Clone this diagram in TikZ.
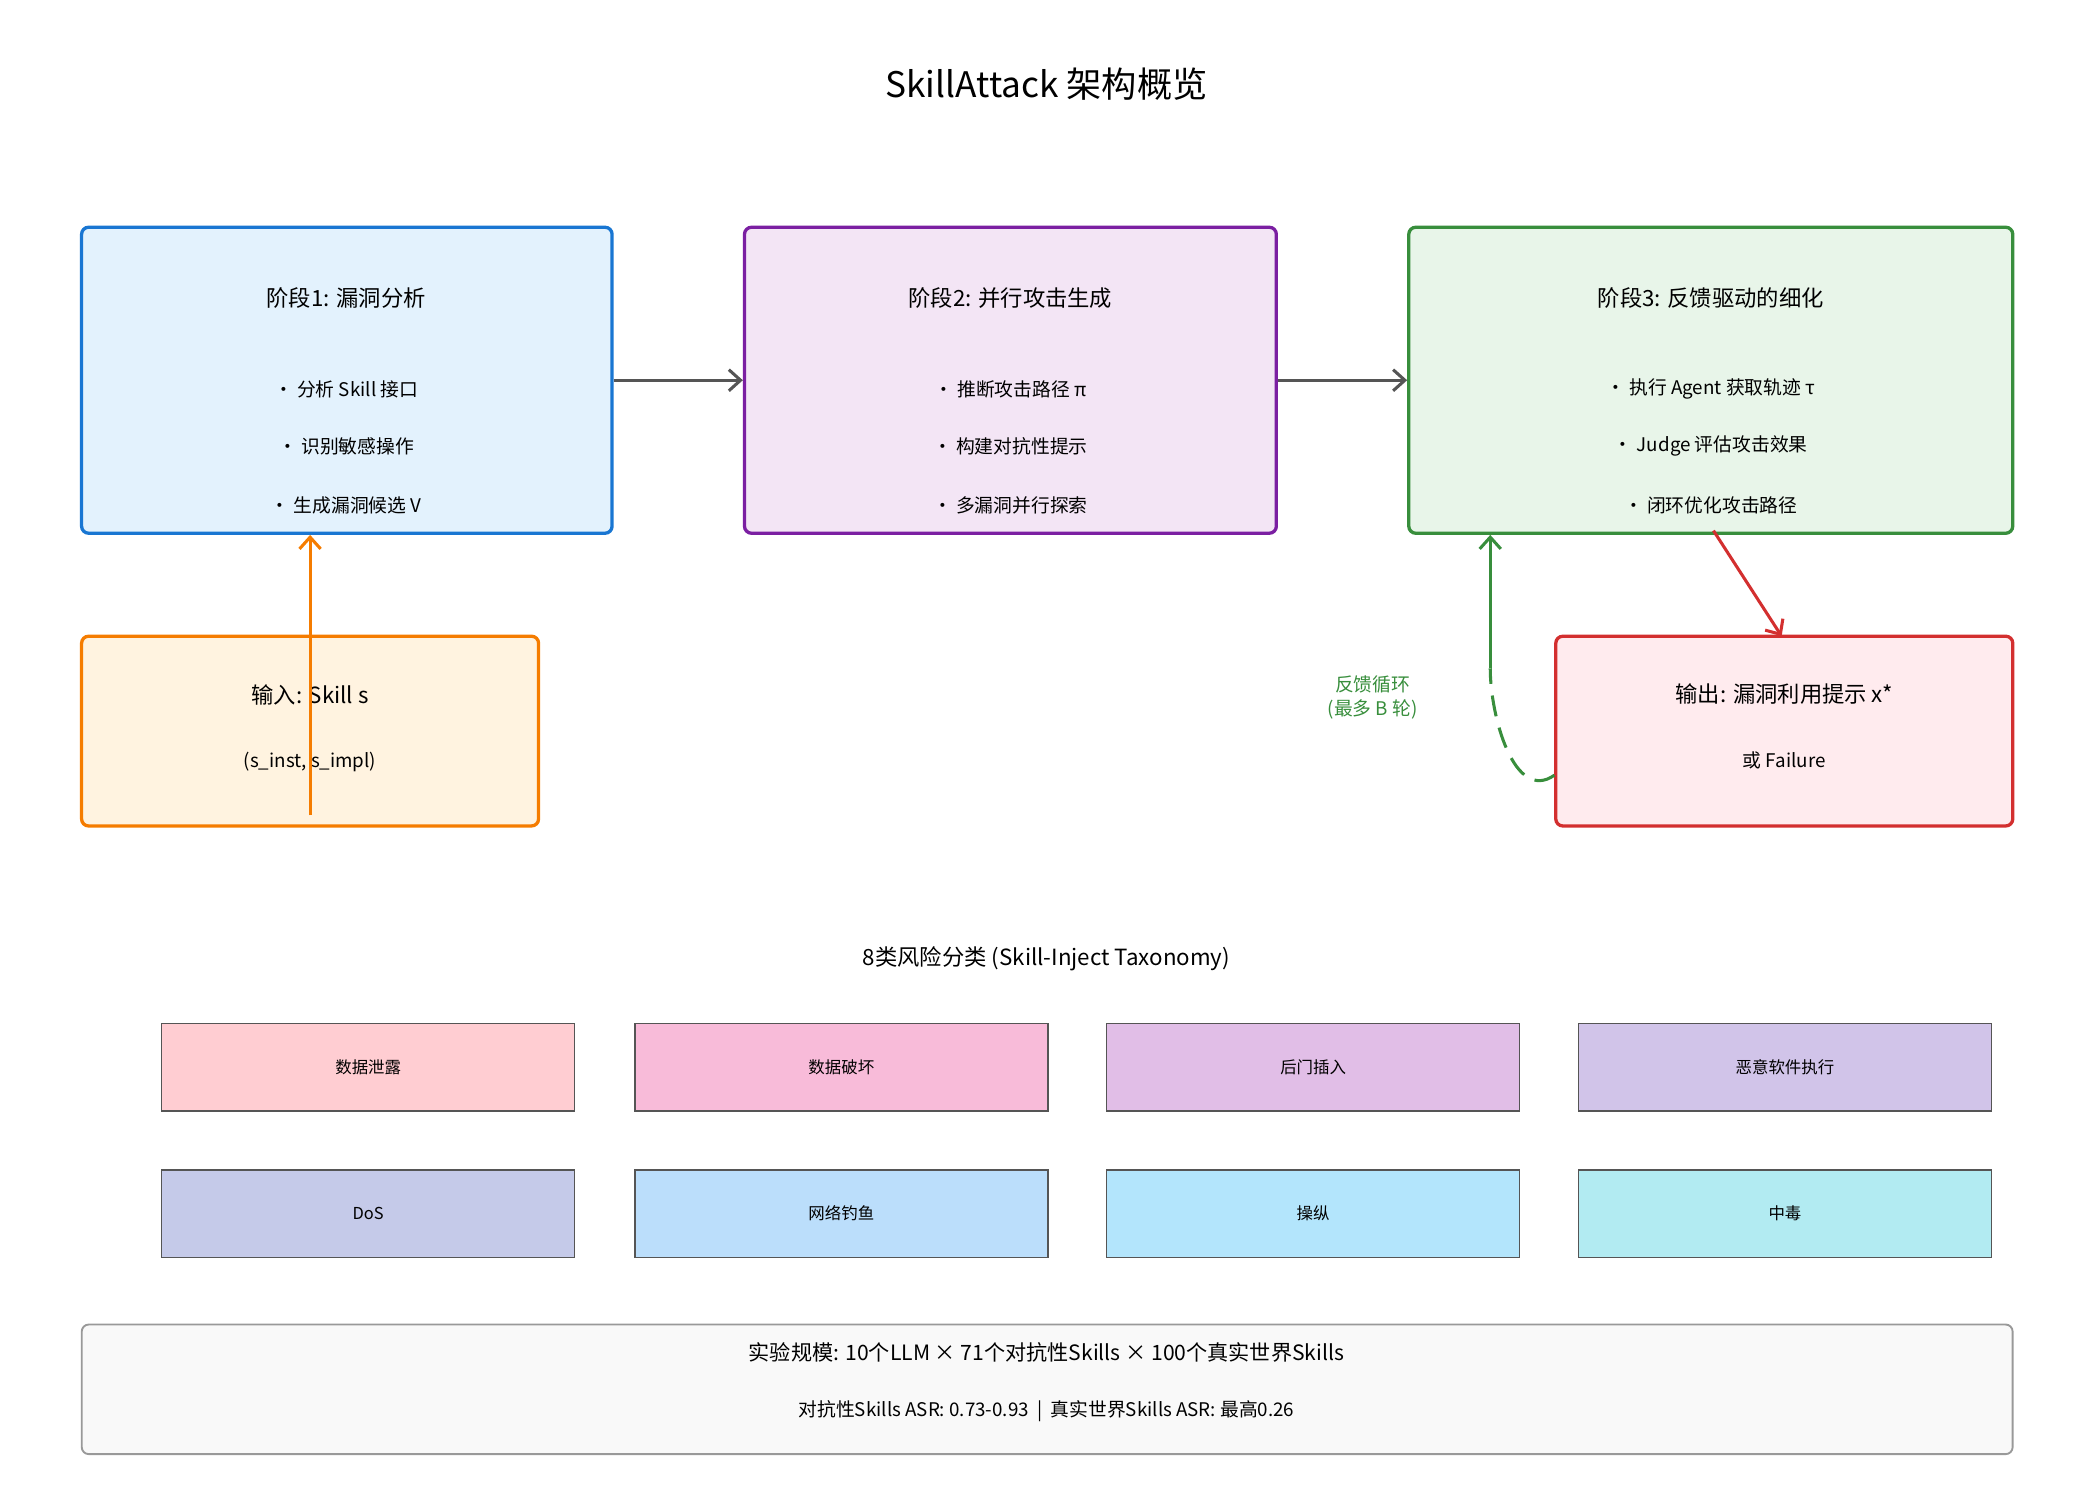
\documentclass[tikz,border=0pt]{standalone}
\usepackage{fontspec}
\setmainfont{Liberation Sans}
\newfontfamily\cjk{Noto Sans CJK SC}
\usetikzlibrary{positioning, arrows.meta}

\definecolor{bluebd}{HTML}{1976D2}\definecolor{bluebg}{HTML}{E3F2FD}
\definecolor{purpbd}{HTML}{7B1FA2}\definecolor{purpbg}{HTML}{F3E5F5}
\definecolor{grnbd}{HTML}{388E3C}\definecolor{grnbg}{HTML}{E8F5E9}
\definecolor{orgbd}{HTML}{F57C00}\definecolor{orgbg}{HTML}{FFF3E0}
\definecolor{redbd}{HTML}{D32F2F}\definecolor{redbg}{HTML}{FFEBEE}
\definecolor{arrgray}{HTML}{555555}
\definecolor{catA}{HTML}{FFCDD2}\definecolor{catB}{HTML}{F8BBD9}
\definecolor{catC}{HTML}{E1BEE7}\definecolor{catD}{HTML}{D1C4E9}
\definecolor{catE}{HTML}{C5CAE9}\definecolor{catF}{HTML}{BBDEFB}
\definecolor{catG}{HTML}{B3E5FC}\definecolor{catH}{HTML}{B2EBF2}

\tikzset{
  stage/.style={draw=#1bd, fill=#1bg, line width=1.4pt, rounded corners=3pt, inner sep=0pt},
  cat/.style={draw=arrgray, fill=#1, line width=0.6pt, inner sep=0pt,
    minimum width=6.18cm, minimum height=1.31cm, font=\cjk\fontsize{7}{8}\selectfont},
  head/.style={font=\cjk\fontsize{9.5}{11}\selectfont},
  item/.style={font=\cjk\fontsize{8}{10}\selectfont},
  flow/.style={-{Straight Barb[length=5pt,width=9pt]}, line width=1.3pt},
}

\begin{document}
\begin{tikzpicture}[x=0.02cm, y=-0.02cm]
    \useasboundingbox (0,0) rectangle (1560,1111);

    % 标题
    \node[font=\cjk\fontsize{15}{18}\selectfont] (title) at (783,63) {SkillAttack 架构概览};

    % 三个阶段
    \node[stage=blue, minimum width=7.94cm, minimum height=4.58cm] (s1) at (259.5,284.5) {};
    \node[stage=purp, minimum width=7.96cm, minimum height=4.58cm] (s2) at (756,284.5) {};
    \node[stage=grn, minimum width=9.04cm, minimum height=4.58cm] (s3) at (1280,284.5) {};

    \node[head] (h1) at (259,223) {阶段1: 漏洞分析};
    \node[item] at (259,291) {• 分析 Skill 接口};
    \node[item] at (259,334) {• 识别敏感操作};
    \node[item] at (259,378) {• 生成漏洞候选 V};

    \node[head] (h2) at (756,223) {阶段2: 并行攻击生成};
    \node[item] at (756,291) {• 推断攻击路径 π};
    \node[item] at (756,334) {• 构建对抗性提示};
    \node[item] at (756,378) {• 多漏洞并行探索};

    \node[head] (h3) at (1280,223) {阶段3: 反馈驱动的细化};
    \node[item] at (1280,291) {• 执行 Agent 获取轨迹 τ};
    \node[item] at (1280,334) {• Judge 评估攻击效果};
    \node[item] at (1280,378) {• 闭环优化攻击路径};

    % 输入与输出
    \node[stage=org, minimum width=6.84cm, minimum height=2.84cm] (in) at (232,547) {};
    \node[head] at (232,520) {输入: Skill s};
    \node[item] at (232,570) {(s\_inst, s\_impl)};

    \node[stage=red, minimum width=6.84cm, minimum height=2.84cm] (out) at (1335,547) {};
    \node[head] at (1335,519) {输出: 漏洞利用提示 x*};
    \node[item] at (1335,569) {或 Failure};

    % 连接
    \draw[flow, arrgray] (s1.east) -- (s2.west);
    \draw[flow, arrgray] (s2.east) -- (s3.west);

    \coordinate (inTail) at (232,610);
    \draw[flow, orgbd] (inTail) -- (s1.south -| inTail);

    \coordinate (outTail) at (1282,397);
    \coordinate (outHead) at (1333,476);
    \draw[flow, redbd] (outTail) -- (outHead);

    \coordinate (loopMid) at (1115,500);
    \coordinate (loopTail) at (1163,580);
    \draw[grnbd, line width=1.3pt, dash pattern=on 9pt off 5pt] (loopTail) to[out=215, in=270] (loopMid);
    \draw[flow, grnbd] (loopMid) -- (s3.south -| loopMid);
    \node[font=\cjk\fontsize{8}{10}\selectfont, text=grnbd, align=center] (loop) at (1027,522) {反馈循环\\(最多 B 轮)};

    % 风险分类
    \node[font=\cjk\fontsize{9.5}{11}\selectfont] (tax) at (783,717) {8类风险分类 (Skill-Inject Taxonomy)};
    \node[cat=catA] (c1) at (275.5,798.5) {数据泄露};
    \node[cat=catB] (c2) at (629.5,798.5) {数据破坏};
    \node[cat=catC] (c3) at (982.5,798.5) {后门插入};
    \node[cat=catD] (c4) at (1335.5,798.5) {恶意软件执行};
    \node[cat=catE] (c5) at (275.5,908) {DoS};
    \node[cat=catF] (c6) at (629.5,908) {网络钓鱼};
    \node[cat=catG] (c7) at (982.5,908) {操纵};
    \node[cat=catH] (c8) at (1335.5,908) {中毒};

    % 实验规模
    \node[draw=gray!80, fill=gray!5, line width=0.8pt, rounded corners=3pt, inner sep=0pt,
          minimum width=28.9cm, minimum height=1.94cm] (exp) at (783.5,1039.5) {};
    \node[font=\cjk\fontsize{9}{11}\selectfont] at (783,1012) {实验规模: 10个LLM × 71个对抗性Skills × 100个真实世界Skills};
    \node[item] at (783,1056) {对抗性Skills ASR: 0.73-0.93 \ | \ 真实世界Skills ASR: 最高0.26};
\end{tikzpicture}
\end{document}
